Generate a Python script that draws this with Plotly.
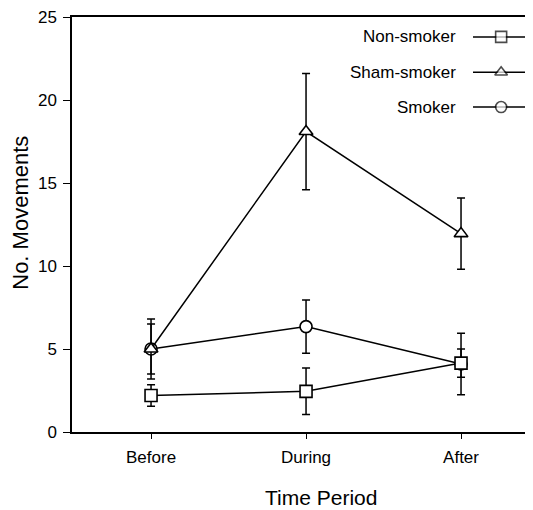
import plotly.graph_objects as go

periods = ["Before", "During", "After"]
x_pos = [0, 1, 2]

non_smoker = [2.2, 2.45, 4.15]
non_smoker_err = [0.65, 1.4, 0.85]
sham_smoker = [5.0, 18.1, 11.95]
sham_smoker_err = [1.8, 3.5, 2.15]
smoker = [5.0, 6.35, 4.1]
smoker_err = [1.5, 1.6, 1.85]

series_names = ["Non-smoker", "Sham-smoker", "Smoker"]
symbols = ["square", "triangle-up", "circle"]

FONT = "Liberation Sans, Arial, sans-serif"
fig = go.Figure()

series = list(zip(series_names, [non_smoker, sham_smoker, smoker],
                  [non_smoker_err, sham_smoker_err, smoker_err], symbols))
# draw order: smoker, non-smoker, sham-smoker (overlaps as in the reference)
for name, vals, errs, sym in [series[2], series[0], series[1]]:
    fig.add_trace(go.Scatter(
        x=x_pos, y=vals, mode="lines+markers", name=name,
        line=dict(color="black", width=1.5),
        marker=dict(symbol=sym, size=12, color="white",
                    line=dict(color="black", width=1.6)),
        error_y=dict(type="data", array=errs, color="black", thickness=1.5, width=4),
        showlegend=False,
    ))

# manual legend (text on the left, sample on the right)
leg_y = [0.952, 0.867, 0.783]
for name, sym, yy in zip(series_names, symbols, leg_y):
    fig.add_trace(go.Scatter(
        x=[0.855, 0.915, 0.977], y=[yy, yy, yy], xaxis="x2", yaxis="y2",
        mode="lines+markers", line=dict(color="black", width=1.5),
        marker=dict(symbol=sym, size=[0, 11, 0], color="white",
                    line=dict(color="black", width=1.6)),
        showlegend=False, hoverinfo="skip"))
    fig.add_annotation(x=0.823, y=yy, xref="paper", yref="paper", text=name,
                       showarrow=False, xanchor="right", yanchor="middle",
                       font=dict(family=FONT, size=17, color="black"))

# axis titles
fig.add_annotation(x=0.531, y=-0.157, xref="paper", yref="paper", text="Time Period",
                   showarrow=False, xanchor="center", yanchor="middle",
                   font=dict(family=FONT, size=21, color="black"))
fig.add_annotation(x=-0.109, y=0.528, xref="paper", yref="paper", text="No. Movements",
                   showarrow=False, xanchor="center", yanchor="middle", textangle=-90,
                   font=dict(family=FONT, size=22, color="black"))

fig.update_layout(
    width=533, height=510,
    margin=dict(l=64, r=0, t=9, b=86),
    paper_bgcolor="white", plot_bgcolor="white",
    font=dict(family=FONT, color="black"),
    xaxis=dict(range=[-0.51, 2.516], tickvals=x_pos, ticktext=periods,
               showgrid=False, zeroline=False, showline=True, linecolor="black",
               linewidth=1.5, mirror=True, ticks="outside", ticklen=5, tickwidth=1.2,
               tickcolor="black", tickfont=dict(size=17, family=FONT),
               ticklabelstandoff=4, ticklabeloverflow="allow"),
    yaxis=dict(range=[0, 25], tickvals=[0, 5, 10, 15, 20, 25],
               showgrid=False, zeroline=False, showline=True, linecolor="black",
               linewidth=1.5, ticks="outside", ticklen=7, tickwidth=1.2,
               tickcolor="black", tickfont=dict(size=17, family=FONT),
               ticklabelstandoff=3, ticklabeloverflow="allow"),
    xaxis2=dict(range=[0, 1], overlaying="x", anchor="y2", visible=False),
    yaxis2=dict(range=[0, 1], overlaying="y", anchor="x2", visible=False),
)

fig.write_html("out.html")
